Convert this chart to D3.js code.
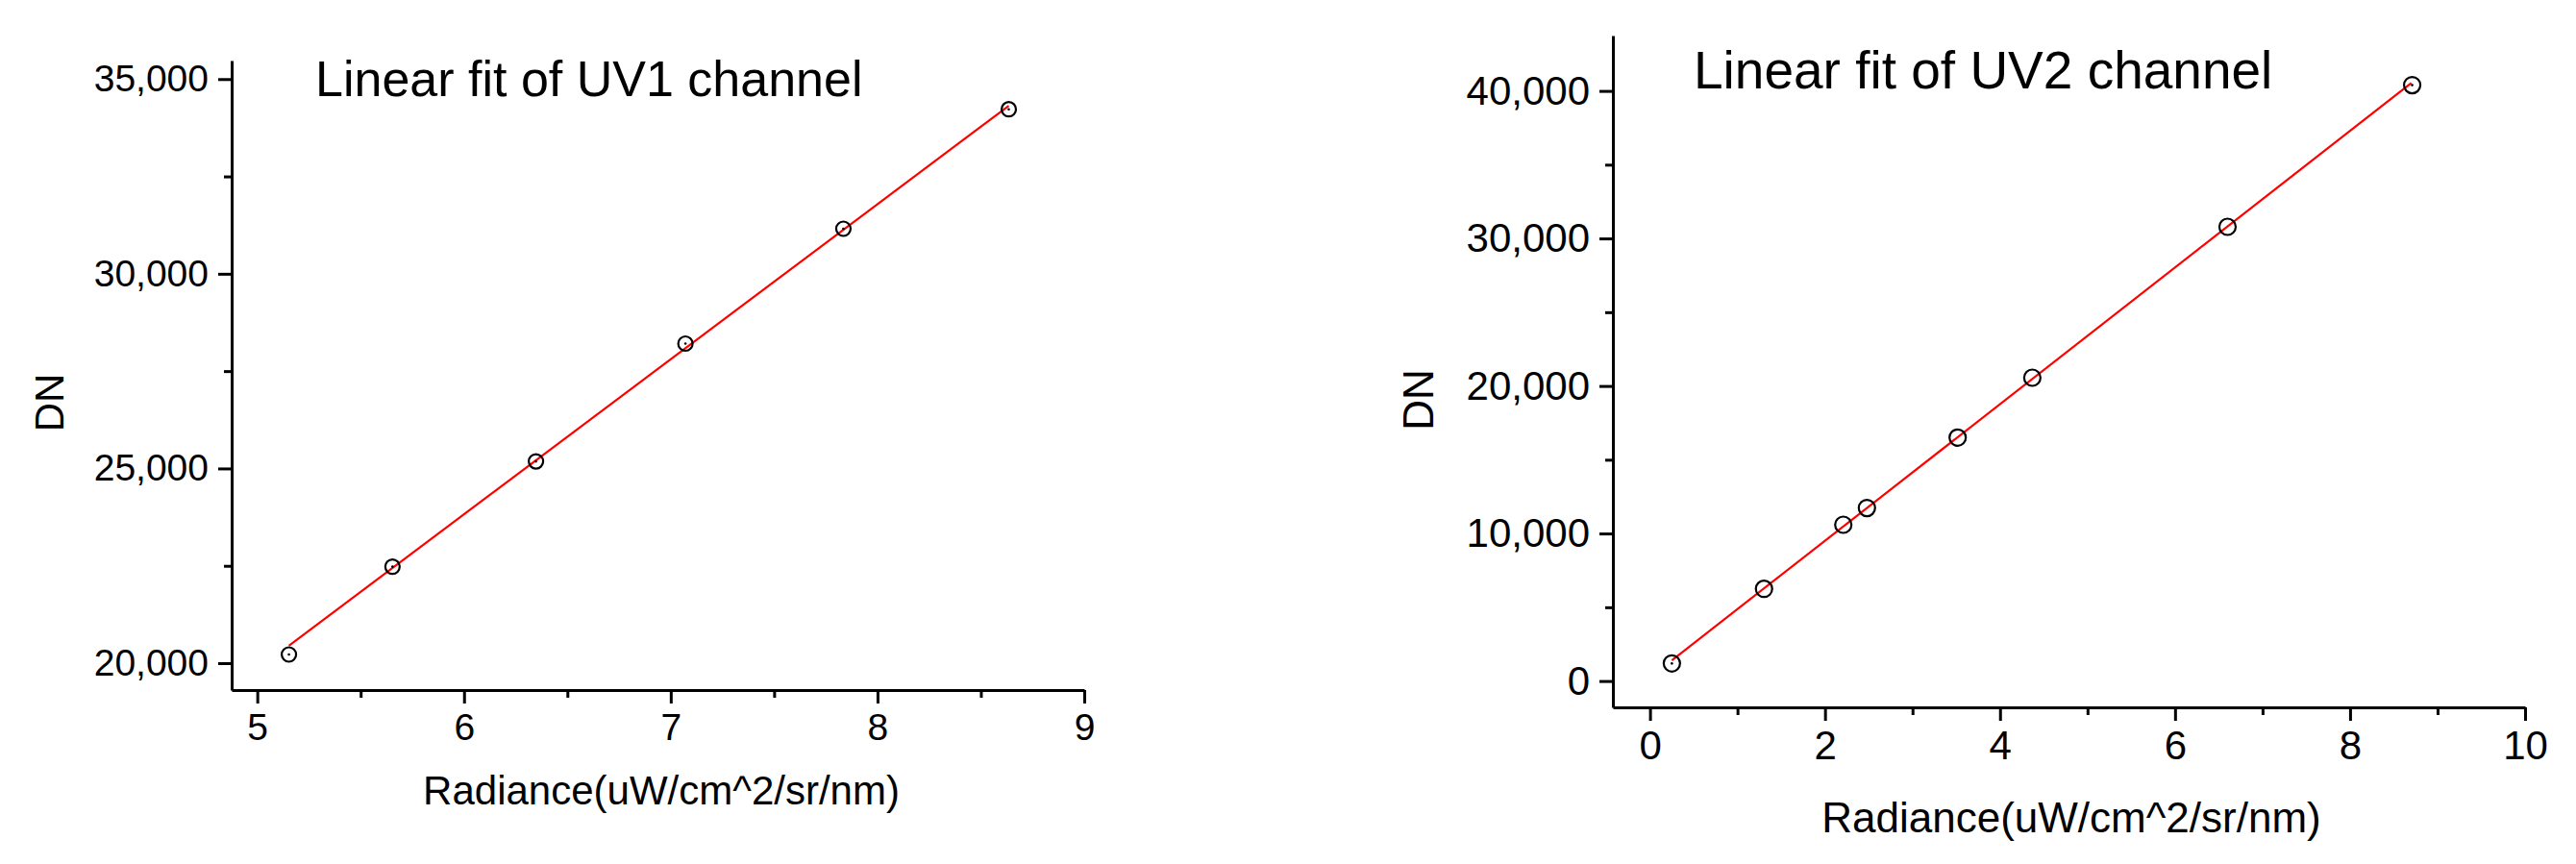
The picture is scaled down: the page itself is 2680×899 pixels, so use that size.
<!DOCTYPE html>
<html>
<head>
<meta charset="utf-8">
<script src="https://cdn.jsdelivr.net/npm/d3@7"></script>
<style>
  html, body { margin: 0; padding: 0; background: #fff; }
  svg { display: block; }
  text { font-family: "Liberation Sans", Arial, sans-serif; fill: #000; }
</style>
</head>
<body>
<svg id="chart" width="2680" height="899"></svg>
<script>
// ---- Data ----
const uv1Radiance = [5.153, 5.654, 6.348, 7.071, 7.835, 8.635];
const uv1DN       = [20222, 22478, 25181, 28207, 31157, 34225];
const uv1FitX     = [5.153, 8.635];
const uv1FitY     = [20450, 34315];

const uv2Radiance = [0.25, 1.303, 2.209, 2.479, 3.516, 4.369, 6.600, 8.710];
const uv2DN       = [1190, 6250, 10593, 11726, 16502, 20560, 30788, 40391];
const uv2FitX     = [0.25, 8.70];
const uv2FitY     = [1400, 40541];

const uv1XTicks = [5, 6, 7, 8, 9];
const uv1XMinor = [5.5, 6.5, 7.5, 8.5];
const uv1YTicks = [20000, 25000, 30000, 35000];
const uv1YMinor = [22500, 27500, 32500];

const uv2XTicks = [0, 2, 4, 6, 8, 10];
const uv2XMinor = [1, 3, 5, 7, 9];
const uv2YTicks = [0, 10000, 20000, 30000, 40000];
const uv2YMinor = [5000, 15000, 25000, 35000];

const titles = ["Linear fit of UV1 channel", "Linear fit of UV2 channel"];
const xTitle = "Radiance(uW/cm^2/sr/nm)";
const yTitle = "DN";

// ---- Layout ----
const svg = d3.select("#chart");
const fmt = d3.format(",");

const panels = [
  {
    xs: uv1Radiance, ys: uv1DN, fx: uv1FitX, fy: uv1FitY,
    xTicks: uv1XTicks, xMinor: uv1XMinor, yTicks: uv1YTicks, yMinor: uv1YMinor,
    xDomain: [4.876, 9], xRange: [241, 1128],
    yDomain: [19309, 35476], yRange: [718, 63],
    tickFont: 39, labelFont: 42, titleFont: 52,
    title: titles[0], titleX: 328, titleY: 100,
    xTitleX: 688, xTitleY: 837, yTitleX: 66, yTitleY: 419,
    r: 7.5, dots: [true, true, true, true, true, true]
  },
  {
    xs: uv2Radiance, ys: uv2DN, fx: uv2FitX, fy: uv2FitY,
    xTicks: uv2XTicks, xMinor: uv2XMinor, yTicks: uv2YTicks, yMinor: uv2YMinor,
    xDomain: [-0.424, 10], xRange: [1678, 2627],
    yDomain: [-1785, 43752], yRange: [736, 37],
    tickFont: 42, labelFont: 44, titleFont: 55,
    title: titles[1], titleX: 1762, titleY: 92,
    xTitleX: 2155, xTitleY: 866, yTitleX: 1491, yTitleY: 416,
    r: 8.5, dots: [true, false, false, false, false, false, false, true]
  }
];

panels.forEach(p => {
  const x = d3.scaleLinear().domain(p.xDomain).range(p.xRange);
  const y = d3.scaleLinear().domain(p.yDomain).range(p.yRange);
  const g = svg.append("g");

  // x axis major
  const gx = g.append("g")
    .attr("transform", `translate(0,${p.yRange[0]})`)
    .call(d3.axisBottom(x).tickValues(p.xTicks).tickSize(14).tickSizeOuter(0).tickPadding(10).tickFormat(d3.format("d")));
  gx.select(".domain").attr("stroke", "#000").attr("stroke-width", 3);
  gx.selectAll(".tick line").attr("stroke", "#000").attr("stroke-width", 3);
  gx.selectAll(".tick text").attr("font-size", p.tickFont).attr("font-family", "Liberation Sans, Arial, sans-serif").attr("fill", "#000");
  // x axis minor
  const gxm = g.append("g")
    .attr("transform", `translate(0,${p.yRange[0]})`)
    .call(d3.axisBottom(x).tickValues(p.xMinor).tickSize(8).tickSizeOuter(0).tickFormat(""));
  gxm.select(".domain").remove();
  gxm.selectAll(".tick line").attr("stroke", "#000").attr("stroke-width", 3);

  // y axis major
  const gy = g.append("g")
    .attr("transform", `translate(${p.xRange[0]},0)`)
    .call(d3.axisLeft(y).tickValues(p.yTicks).tickSize(14).tickSizeOuter(0).tickPadding(10).tickFormat(fmt));
  gy.select(".domain").attr("stroke", "#000").attr("stroke-width", 3);
  gy.selectAll(".tick line").attr("stroke", "#000").attr("stroke-width", 3);
  gy.selectAll(".tick text").attr("font-size", p.tickFont).attr("font-family", "Liberation Sans, Arial, sans-serif").attr("fill", "#000");
  // y axis minor
  const gym = g.append("g")
    .attr("transform", `translate(${p.xRange[0]},0)`)
    .call(d3.axisLeft(y).tickValues(p.yMinor).tickSize(8).tickSizeOuter(0).tickFormat(""));
  gym.select(".domain").remove();
  gym.selectAll(".tick line").attr("stroke", "#000").attr("stroke-width", 3);

  // fit line
  const line = d3.line().x(d => x(d[0])).y(d => y(d[1]));
  g.append("path")
    .datum(p.fx.map((v, i) => [v, p.fy[i]]))
    .attr("d", line)
    .attr("fill", "none")
    .attr("stroke", "#ff0000")
    .attr("stroke-width", 2.2);

  // points
  const pts = p.xs.map((v, i) => ({ x: v, y: p.ys[i], dot: p.dots[i] }));
  g.selectAll("circle.pt").data(pts).join("circle")
    .attr("class", "pt")
    .attr("cx", d => x(d.x)).attr("cy", d => y(d.y))
    .attr("r", p.r)
    .attr("fill", "none").attr("stroke", "#000").attr("stroke-width", 2.2);
  g.selectAll("circle.dot").data(pts.filter(d => d.dot)).join("circle")
    .attr("class", "dot")
    .attr("cx", d => x(d.x)).attr("cy", d => y(d.y))
    .attr("r", 1.3).attr("fill", "#000");

  // titles
  g.append("text")
    .attr("x", p.titleX).attr("y", p.titleY)
    .attr("font-size", p.titleFont)
    .text(p.title);
  g.append("text")
    .attr("x", p.xTitleX).attr("y", p.xTitleY)
    .attr("text-anchor", "middle")
    .attr("font-size", p.labelFont)
    .text(xTitle);
  g.append("text")
    .attr("transform", `translate(${p.yTitleX},${p.yTitleY}) rotate(-90)`)
    .attr("text-anchor", "middle")
    .attr("font-size", p.labelFont)
    .text(yTitle);
});
</script>
</body>
</html>
